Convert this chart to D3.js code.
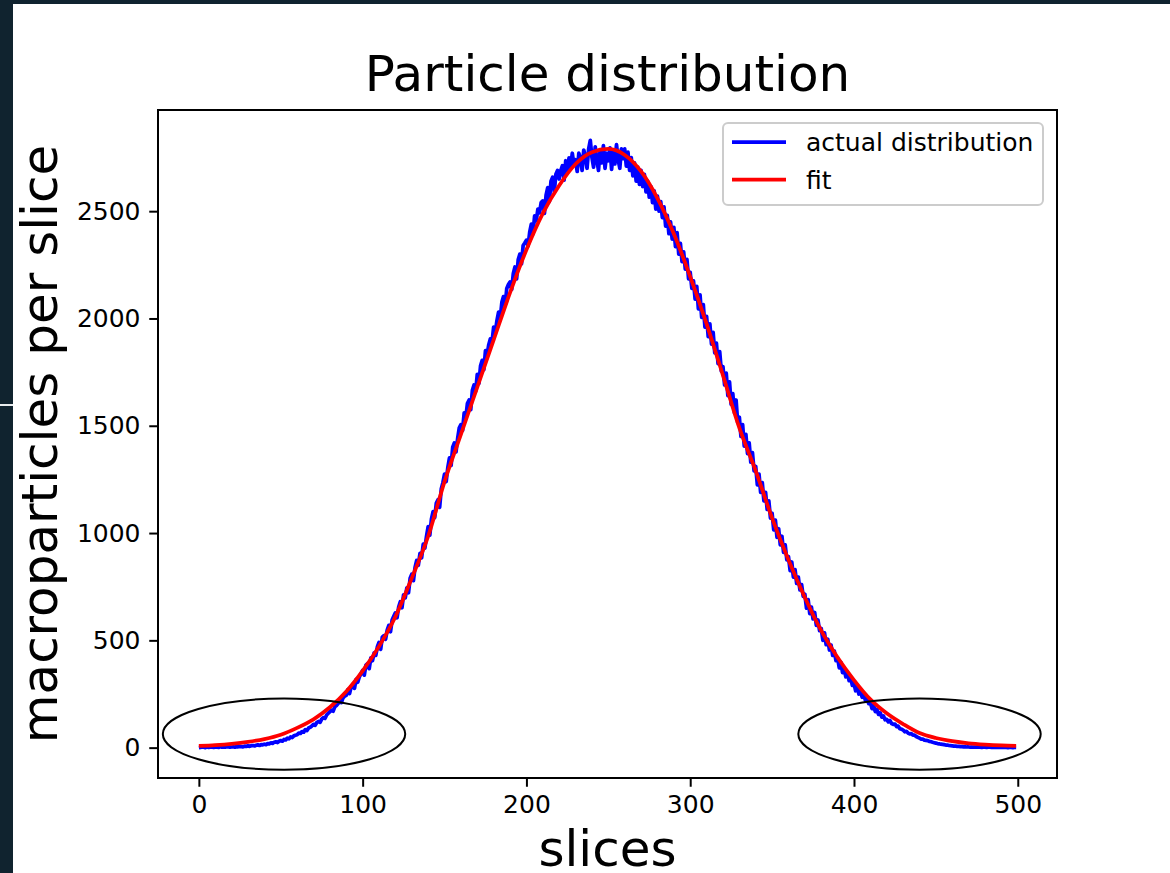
<!DOCTYPE html>
<html>
<head>
<meta charset="utf-8">
<script src="https://cdn.jsdelivr.net/npm/d3@7"></script>
<style>
  html, body { margin: 0; padding: 0; background: #10232f; }
  svg { display: block; }
  text { font-family: "DejaVu Sans", "Liberation Sans", sans-serif; fill: #000; }
</style>
</head>
<body>
<svg id="chart" width="1170" height="873"></svg>
<script>
// Macroparticle counts per longitudinal slice (slice index 0..499)
const actualDistribution = [
  0,1,3,2,0,4,1,2,3,1,
  2,3,1,4,2,3,2,5,3,2,
  3,4,2,5,4,6,5,4,7,6,
  8,6,9,10,8,11,13,10,14,13,
  16,14,19,18,22,20,25,27,24,30,
  33,30,38,36,44,41,50,47,55,58,
  60,68,66,75,72,84,80,92,95,101,
  108,104,117,122,118,133,140,136,152,160,
  168,175,170,190,196,205,214,210,232,240,
  244,270,252,285,292,276,318,305,330,345,
  360,338,385,392,368,418,405,442,430,470,
  490,458,515,522,505,548,570,540,595,612,
  628,605,655,680,652,712,698,745,722,790,
  808,778,840,872,850,905,885,948,930,985,
  1030,990,1065,1100,1072,1140,1155,1120,1205,1235,
  1275,1240,1305,1350,1315,1400,1420,1378,1440,1490,
  1505,1478,1560,1540,1605,1620,1575,1665,1690,1660,
  1740,1698,1780,1805,1762,1850,1830,1878,1905,1890,
  1960,1935,1990,2030,2000,2075,2102,2060,2140,2158,
  2170,2135,2210,2240,2185,2275,2300,2255,2340,2352,
  2365,2338,2402,2440,2395,2478,2455,2510,2492,2540,
  2548,2490,2575,2610,2545,2640,2658,2590,2672,2690,
  2650,2690,2712,2645,2735,2690,2748,2705,2770,2715,
  2740,2685,2770,2745,2690,2785,2755,2700,2790,2830,
  2750,2705,2800,2740,2690,2785,2725,2805,2700,2770,
  2735,2795,2695,2780,2720,2810,2740,2700,2790,2745,
  2790,2710,2775,2690,2750,2665,2725,2640,2705,2625,
  2690,2615,2672,2590,2640,2565,2615,2540,2595,2510,
  2570,2500,2545,2470,2520,2430,2480,2395,2450,2370,
  2425,2335,2400,2300,2350,2265,2310,2230,2275,2185,
  2215,2140,2175,2090,2150,2045,2110,2005,2065,1960,
  2010,1915,1975,1880,1935,1840,1885,1790,1845,1755,
  1775,1690,1745,1640,1705,1600,1650,1560,1620,1515,
  1540,1450,1505,1405,1460,1370,1420,1330,1375,1290,
  1310,1225,1275,1190,1235,1150,1190,1110,1150,1070,
  1092,1015,1060,980,1020,945,985,910,945,875,
  890,825,865,795,830,765,795,735,760,705,
  715,650,690,625,655,600,630,570,595,545,
  555,500,535,480,505,455,478,430,450,405,
  418,372,398,350,372,330,350,312,325,290,
  300,265,285,250,262,235,245,220,228,205,
  210,182,196,168,178,155,162,142,148,130,
  132,120,126,112,108,110,98,100,88,86,
  82,74,76,68,64,65,58,58,52,48,
  44,40,40,35,34,33,29,28,25,23,
  21,19,18,16,15,14,12,12,10,9,
  8,7,7,6,6,5,5,4,4,3,
  3,2,3,2,2,3,2,2,1,2,
  2,1,2,2,1,2,1,1,2,1,
  1,1,2,1,0,1,1,0,1,1
];
const slices = actualDistribution.map((_, i) => i);

// Fitted profile, sampled every 10 slices
const fitSlices = [
  0,10,20,30,40,50,60,70,80,90,
  100,110,120,130,140,150,160,170,180,190,
  200,210,220,230,240,250,260,270,280,290,
  300,310,320,330,340,350,360,370,380,390,
  400,410,420,430,440,450,460,470,480,490,499
];
const fitValues = [
  8,12,18,27,40,60,92,132,188,262,
  358,472,610,790,985,1240,1460,1680,1900,2120,
  2320,2490,2620,2720,2775,2790,2762,2685,2560,2395,
  2195,1975,1735,1490,1290,1070,875,700,545,420,
  315,225,160,110,68,45,30,20,14,10,8
];

// Highlighted tail regions (centre slice, half-width in slices, centre level, half-height)
const highlightCentres = [52, 440];
const highlightHalfWidth = 74;
const highlightLevel = 63;
const highlightHalfHeight = 166;

const xTickValues = [0, 100, 200, 300, 400, 500];
const yTickValues = [0, 500, 1000, 1500, 2000, 2500];
const seriesNames = ["actual distribution", "fit"];
const seriesColors = ["#0000ff", "#ff0000"];

const svg = d3.select("#chart");
const W = 1170, H = 873;

// page background: dark frame with a white figure panel
svg.append("rect").attr("x", 0).attr("y", 0).attr("width", W).attr("height", H).attr("fill", "#10232f");
svg.append("rect").attr("x", 13).attr("y", 4).attr("width", W - 13).attr("height", H - 4).attr("fill", "#ffffff");
svg.append("rect").attr("x", 0).attr("y", 404).attr("width", 13).attr("height", 2).attr("fill", "#e8ecee");

const plot = { left: 158, right: 1057, top: 110, bottom: 778 };

// matplotlib-style 5% autoscale margins
const xExt = d3.extent(slices);
const xPad = (xExt[1] - xExt[0]) * 0.05;
const x = d3.scaleLinear().domain([xExt[0] - xPad, xExt[1] + xPad]).range([plot.left, plot.right]);

const yExt = d3.extent(actualDistribution.concat(fitValues));
const yPad = (yExt[1] - yExt[0]) * 0.05;
const y = d3.scaleLinear().domain([yExt[0] - yPad, yExt[1] + yPad]).range([plot.bottom, plot.top]);

const tickLen = 8.75, tickPad = 8.75;

// x axis
const xAxis = svg.append("g")
  .attr("transform", `translate(0,${plot.bottom})`)
  .call(d3.axisBottom(x).tickValues(xTickValues).tickSize(tickLen).tickPadding(tickPad).tickFormat(d3.format("d")));
xAxis.select(".domain").remove();
xAxis.selectAll(".tick line").attr("stroke", "#000").attr("stroke-width", 2);
xAxis.selectAll(".tick text").attr("font-size", 25).attr("font-family", "DejaVu Sans").attr("fill", "#1a1a1a");

// y axis
const yAxis = svg.append("g")
  .attr("transform", `translate(${plot.left},0)`)
  .call(d3.axisLeft(y).tickValues(yTickValues).tickSize(tickLen).tickPadding(tickPad).tickFormat(d3.format("d")));
yAxis.select(".domain").remove();
yAxis.selectAll(".tick line").attr("stroke", "#000").attr("stroke-width", 2);
yAxis.selectAll(".tick text").attr("font-size", 25).attr("font-family", "DejaVu Sans").attr("fill", "#1a1a1a");

// data lines
const lineActual = d3.line().x((d, i) => x(slices[i])).y(d => y(d));
svg.append("path")
  .datum(actualDistribution)
  .attr("d", lineActual)
  .attr("fill", "none")
  .attr("stroke", seriesColors[0])
  .attr("stroke-width", 3.75)
  .attr("stroke-linejoin", "round");

const lineFit = d3.line().x((d, i) => x(fitSlices[i])).y(d => y(d)).curve(d3.curveMonotoneX);
svg.append("path")
  .datum(fitValues)
  .attr("d", lineFit)
  .attr("fill", "none")
  .attr("stroke", seriesColors[1])
  .attr("stroke-width", 3.75)
  .attr("stroke-linejoin", "round");

// frame
svg.append("rect")
  .attr("x", plot.left).attr("y", plot.top)
  .attr("width", plot.right - plot.left).attr("height", plot.bottom - plot.top)
  .attr("fill", "none").attr("stroke", "#000").attr("stroke-width", 2);

// tail highlight ellipses
svg.selectAll("ellipse.highlight")
  .data(highlightCentres)
  .join("ellipse")
  .attr("class", "highlight")
  .attr("cx", d => x(d))
  .attr("cy", y(highlightLevel))
  .attr("rx", x(highlightHalfWidth) - x(0))
  .attr("ry", y(0) - y(highlightHalfHeight))
  .attr("fill", "none")
  .attr("stroke", "#000")
  .attr("stroke-width", 2);

// legend
const legend = svg.append("g").attr("transform", "translate(723,123)");
legend.append("rect")
  .attr("width", 320).attr("height", 82).attr("rx", 5).attr("ry", 5)
  .attr("fill", "#ffffff").attr("fill-opacity", 0.8)
  .attr("stroke", "#cccccc").attr("stroke-width", 2);
seriesNames.forEach((name, i) => {
  const cy = 19 + i * 37.5;
  legend.append("line")
    .attr("x1", 9).attr("x2", 63).attr("y1", cy).attr("y2", cy)
    .attr("stroke", seriesColors[i]).attr("stroke-width", 3.75);
  legend.append("text")
    .attr("x", 83).attr("y", cy + 9)
    .attr("font-size", 25)
    .attr("fill", "#1a1a1a")
    .text(name);
});

// titles
svg.append("text")
  .attr("x", (plot.left + plot.right) / 2).attr("y", 91)
  .attr("text-anchor", "middle").attr("font-size", 50)
  .text("Particle distribution");

svg.append("text")
  .attr("x", (plot.left + plot.right) / 2).attr("y", 866)
  .attr("text-anchor", "middle").attr("font-size", 50)
  .text("slices");

svg.append("text")
  .attr("transform", `translate(57,${(plot.top + plot.bottom) / 2}) rotate(-90)`)
  .attr("text-anchor", "middle").attr("font-size", 50)
  .text("macroparticles per slice");
</script>
</body>
</html>
